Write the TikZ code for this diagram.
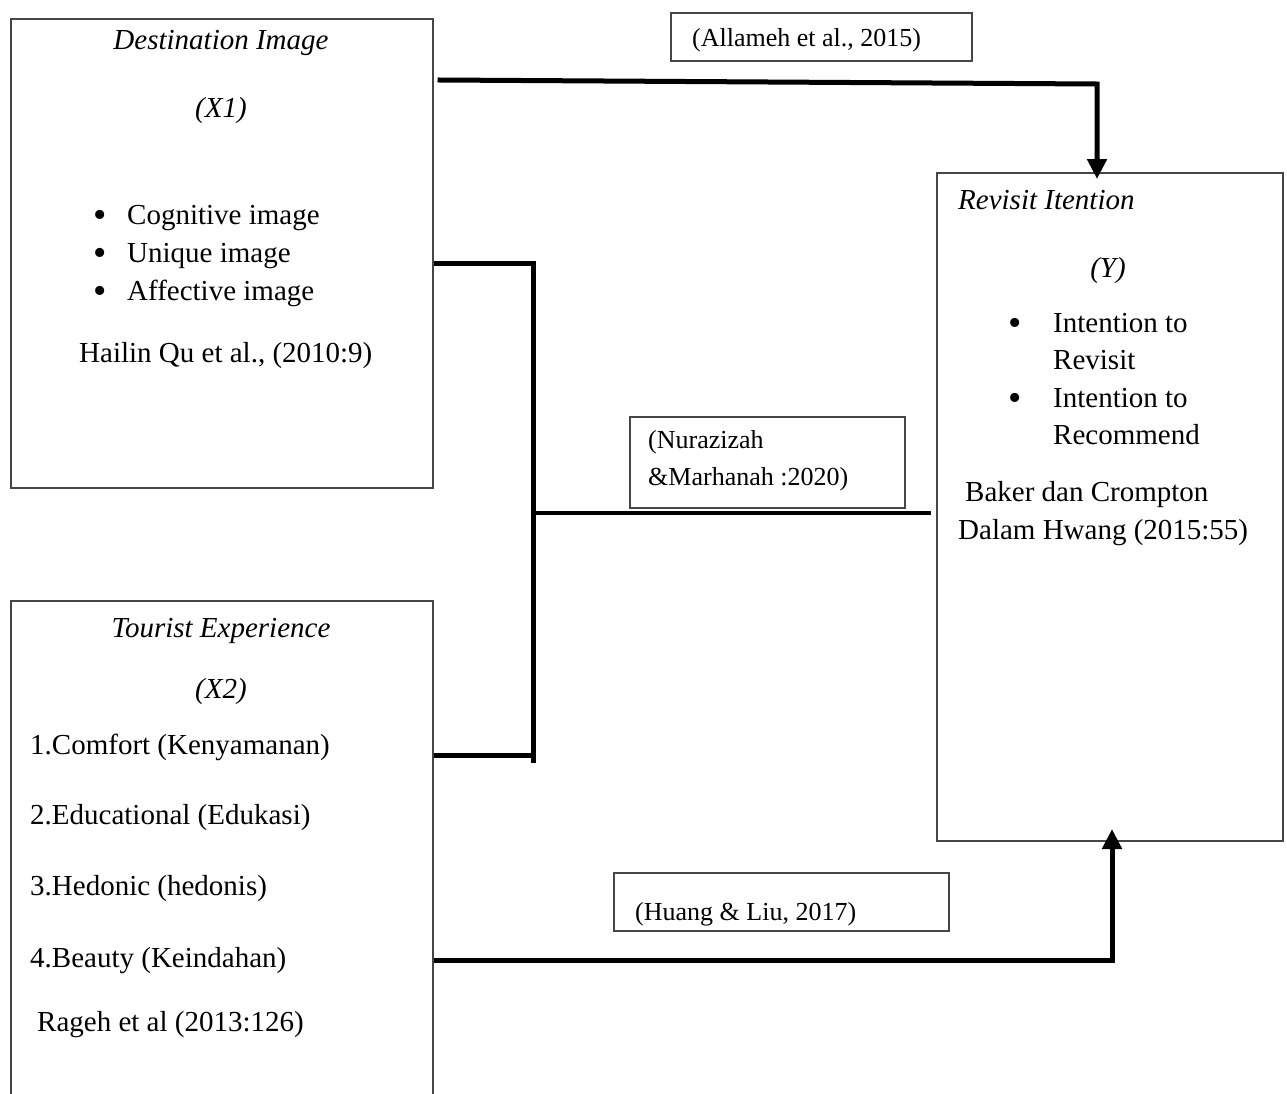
\documentclass[tikz,border=0pt]{standalone}
\usepackage{fontspec}
\setmainfont{Liberation Serif}
\usetikzlibrary{arrows.meta}
\definecolor{edge}{RGB}{70,70,70}
\tikzset{
  frame/.style={draw=edge, line width=1.6pt, inner sep=0pt, anchor=north west},
  bigtxt/.style={font=\fontsize{29}{35}\selectfont, inner sep=0pt},
  smalltxt/.style={font=\fontsize{26}{31}\selectfont, inner sep=0pt},
  bul/.style={font=\fontsize{38}{40}\selectfont, inner sep=0pt, anchor=base},
  thick link/.style={line width=5pt, line cap=rect},
  mid link/.style={line width=3.5pt},
  tip/.style={-{Triangle[length=20pt,width=19pt]}}
}
\begin{document}
\begin{tikzpicture}[x=1pt,y=-1pt]
\useasboundingbox (0,0) rectangle (1287,1093);
\clip (0,0) rectangle (1287,1093);
\fill[white] (0,0) rectangle (1287,1093);

% boxes
\node[frame, minimum width=422pt, minimum height=469pt] (x1) at (10,18) {};
\node[frame, minimum width=422pt, minimum height=520pt] (x2) at (10,600) {};
\node[frame, minimum width=346pt, minimum height=668pt] (y) at (936,172) {};
\node[frame, minimum width=301pt, minimum height=48pt] (ref1) at (670,12) {};
\node[frame, minimum width=275pt, minimum height=91pt] (ref2) at (629,416) {};
\node[frame, minimum width=335pt, minimum height=58pt] (ref3) at (613,872) {};

% X1 text
\node[bigtxt, anchor=base] (t1) at (221,49) {\itshape Destination Image};
\node[bigtxt, anchor=base] (t2) at (221,117) {\itshape (X1)};
\node[bul] (b1) at (100,227) {•};
\node[bigtxt, anchor=base west] (t3) at (127,224) {Cognitive image};
\node[bul] (b2) at (100,265) {•};
\node[bigtxt, anchor=base west] (t4) at (127,262) {Unique image};
\node[bul] (b3) at (100,303) {•};
\node[bigtxt, anchor=base west] (t5) at (127,300) {Affective image};
\node[bigtxt, anchor=base west] (t6) at (79,362) {Hailin Qu et al., (2010:9)};

% X2 text
\node[bigtxt, anchor=base] (s1) at (221,637) {\itshape Tourist Experience};
\node[bigtxt, anchor=base] (s2) at (221,698) {\itshape (X2)};
\node[bigtxt, anchor=base west] (s3) at (30,754) {1.Comfort (Kenyamanan)};
\node[bigtxt, anchor=base west] (s4) at (30,824) {2.Educational (Edukasi)};
\node[bigtxt, anchor=base west] (s5) at (30,895) {3.Hedonic (hedonis)};
\node[bigtxt, anchor=base west] (s6) at (30,967) {4.Beauty (Keindahan)};
\node[bigtxt, anchor=base west] (s7) at (37,1031) {Rageh et al (2013:126)};

% Y text
\node[bigtxt, anchor=base west] (r1) at (958,209) {\itshape Revisit Itention};
\node[bigtxt, anchor=base] (r2) at (1108,277) {\itshape (Y)};
\node[bul] (rb1) at (1015,335) {•};
\node[bigtxt, anchor=base west] (r3) at (1053,332) {Intention to};
\node[bigtxt, anchor=base west] (r4) at (1053,369) {Revisit};
\node[bul] (rb2) at (1015,410) {•};
\node[bigtxt, anchor=base west] (r5) at (1053,407) {Intention to};
\node[bigtxt, anchor=base west] (r6) at (1053,444) {Recommend};
\node[bigtxt, anchor=base west] (r7) at (965,501) {Baker dan Crompton};
\node[bigtxt, anchor=base west] (r8) at (958,539) {Dalam Hwang (2015:55)};

% reference labels
\node[smalltxt, anchor=base west] (l1) at (692,46) {(Allameh et al., 2015)};
\node[smalltxt, anchor=base west] (l2) at (648,448) {(Nurazizah};
\node[smalltxt, anchor=base west] (l3) at (648,485) {\&Marhanah :2020)};
\node[smalltxt, anchor=base west] (l4) at (635,920) {(Huang \& Liu, 2017)};

% connector coordinates
\coordinate (a0) at (440,80);
\coordinate (a1) at (1097,84);
\coordinate (a2) at (1097,179);
\coordinate (c0) at (436,263);
\coordinate (c1) at (533,263);
\coordinate (c2) at (533,760);
\coordinate (c3) at (436,755);
\coordinate (c4) at (533,755);
\coordinate (m0) at (533,513);
\coordinate (m1) at (931,513);
\coordinate (d0) at (436,960);
\coordinate (d1) at (1112,960);
\coordinate (d2) at (1112,829);

% connectors
\draw[thick link, tip] (a0) -- (a1) -- (a2);
\draw[thick link] (c0) -- (c1) -- (c2);
\draw[thick link] (c3) -- (c4);
\draw[mid link] (m0) -- (m1);
\draw[thick link, tip] (d0) -- (d1) -- (d2);
\end{tikzpicture}
\end{document}
